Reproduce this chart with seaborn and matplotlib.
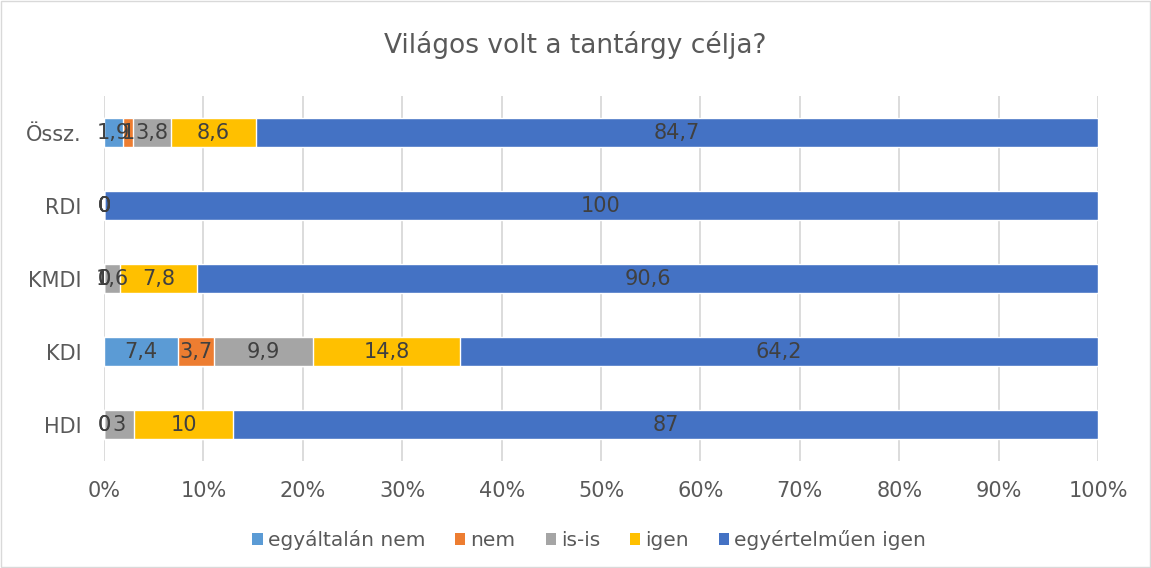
import numpy as np
import pandas as pd
import matplotlib.pyplot as plt
import seaborn as sns
from matplotlib.patches import Patch

# Adatok
categories = ['Össz.', 'RDI', 'KMDI', 'KDI', 'HDI']
series = ['egyáltalán nem', 'nem', 'is-is', 'igen', 'egyértelműen igen']
egyaltalan_nem = [1.9, 0, 0, 7.4, 0]
nem = [1, 0, 0, 3.7, 0]
is_is = [3.8, 0, 1.6, 9.9, 3]
igen = [8.6, 0, 7.8, 14.8, 10]
egyertelmuen_igen = [84.7, 100, 90.6, 64.2, 87]
colors = ['#5B9BD5', '#ED7D31', '#A5A5A5', '#FFC000', '#4472C4']
tick_values = [0, 10, 20, 30, 40, 50, 60, 70, 80, 90, 100]

sns.set_theme(style='white')
plt.rcParams['font.family'] = ['DejaVu Sans']

values = np.array([egyaltalan_nem, nem, is_is, igen, egyertelmuen_igen])
cum = np.cumsum(values, axis=0)

fig = plt.figure(figsize=(11.51, 5.68), dpi=100)
ax = fig.add_axes([0.0904, 0.188, 0.8636, 0.643])

# stacked: a kumulált összegeket hátulról előre rajzoljuk
for i in range(len(series) - 1, -1, -1):
    df = pd.DataFrame({'kat': categories, 'ertek': cum[i]})
    sns.barplot(data=df, x='ertek', y='kat', orient='h', color=colors[i],
                width=0.4, saturation=1, ax=ax, zorder=3)

# adatfeliratok
for i in range(len(series)):
    for j in range(len(categories)):
        v = values[i, j]
        center = cum[i, j] - v / 2
        txt = f"{v:g}".replace('.', ',')
        ax.text(center, j, txt, ha='center', va='center',
                fontsize=15, color='#404040', zorder=5)

ax.set_xlim(0, 100)
ax.set_ylim(4.5, -0.5)
ax.set_xticks(tick_values)
ax.set_xticklabels([f"{t}%" for t in tick_values])
ax.set_xlabel('')
ax.set_ylabel('')
ax.tick_params(axis='both', length=0, labelsize=15, labelcolor='#595959')
ax.tick_params(axis='x', pad=14)
ax.tick_params(axis='y', pad=16)
ax.grid(axis='x', color='#D9D9D9', linewidth=1.3, zorder=0)
ax.set_axisbelow(True)
for s in ax.spines.values():
    s.set_visible(False)

fig.suptitle('Világos volt a tantárgy célja?', y=0.945, fontsize=19, color='#595959')

handles = [Patch(facecolor=c, edgecolor='none') for c in colors]
fig.legend(handles, series, loc='center', bbox_to_anchor=(0.512, 0.049), ncol=5,
           frameon=False, fontsize=14.5, labelcolor='#595959', handlelength=0.5,
           handleheight=0.5, handletextpad=0.25, columnspacing=1.5)

fig.patches.append(plt.Rectangle((0.001, 0.001), 0.998, 0.998, transform=fig.transFigure,
                                 fill=False, edgecolor='#D9D9D9', linewidth=1))

fig.savefig('out.png', dpi=100)
